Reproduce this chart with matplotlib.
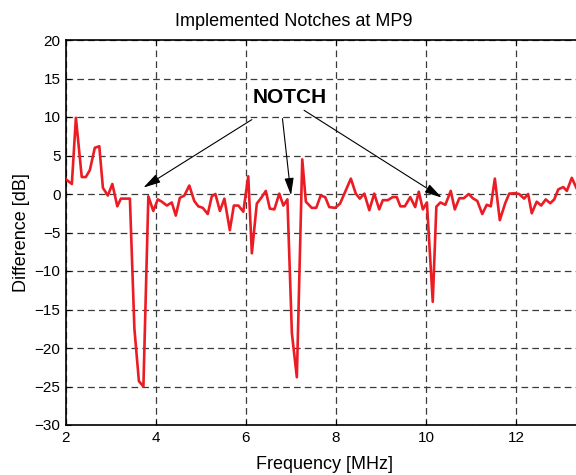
import matplotlib
matplotlib.use("Agg")
import matplotlib.pyplot as plt

plt.rcParams['font.family'] = ['Liberation Sans', 'DejaVu Sans']
plt.rcParams['lines.scale_dashes'] = False

# Measured difference after notch implementation at MP9
freq_mhz = [
    2.00, 2.13, 2.22, 2.35, 2.44, 2.53, 2.64, 2.74, 2.82, 2.93,
    3.03, 3.14, 3.22, 3.32, 3.42, 3.52, 3.62, 3.72, 3.83, 3.94,
    4.04, 4.13, 4.24, 4.35, 4.44, 4.53, 4.63, 4.74, 4.85, 4.94,
    5.04, 5.15, 5.24, 5.32, 5.42, 5.52, 5.64, 5.73, 5.83, 5.94,
    6.05, 6.13, 6.24, 6.35, 6.44, 6.53, 6.63, 6.74, 6.83, 6.92,
    7.02, 7.13, 7.25, 7.33, 7.46, 7.56, 7.66, 7.76, 7.85, 7.98,
    8.09, 8.22, 8.33, 8.44, 8.53, 8.63, 8.74, 8.85, 8.96, 9.04,
    9.15, 9.26, 9.35, 9.43, 9.53, 9.65, 9.76, 9.84, 9.93, 10.02,
    10.15, 10.23, 10.32, 10.43, 10.55, 10.64, 10.74, 10.84, 10.95, 11.04,
    11.14, 11.25, 11.35, 11.44, 11.53, 11.64, 11.76, 11.85, 11.98, 12.07,
    12.18, 12.27, 12.35, 12.46, 12.56, 12.66, 12.76, 12.85, 12.94, 13.05,
    13.13, 13.24, 13.34,
]
difference_db = [
    1.9, 1.3, 9.9, 2.2, 2.2, 3.1, 6.0, 6.2, 0.8, -0.2,
    1.3, -1.6, -0.6, -0.6, -0.6, -17.5, -24.3, -25.0, -0.3, -2.2,
    -0.7, -1.0, -1.5, -1.1, -2.8, -0.5, -0.2, 1.1, -0.9, -1.6,
    -1.8, -2.6, -0.3, 0.0, -2.2, -0.6, -4.7, -1.5, -1.5, -2.3,
    2.3, -7.7, -1.25, -0.4, 0.4, -1.9, -2.0, 0.05, -1.5, -0.7,
    -18.1, -23.8, 4.5, -1.0, -1.8, -1.8, -0.2, -0.4, -1.7, -1.8,
    -1.25, 0.5, 2.0, 0.05, -0.6, 0.05, -2.1, 0.05, -2.0, -0.8,
    -0.8, -0.4, -0.4, -1.6, -1.6, -0.4, -1.7, 0.3, -2.0, -1.1,
    -14.0, -1.65, -1.1, -1.4, 0.4, -2.0, -0.55, -0.55, 0.0, -0.55,
    -0.9, -2.6, -1.4, -1.6, 2.0, -3.4, -1.2, 0.05, 0.1, 0.0,
    -0.6, 0.0, -2.5, -1.0, -1.5, -0.7, -1.2, -0.7, 0.6, 0.9,
    0.4, 2.1, 0.8,
]

x_ticks = [2, 4, 6, 8, 10, 12]
y_ticks = [-30, -25, -20, -15, -10, -5, 0, 5, 10, 15, 20]

fig = plt.figure(figsize=(5.76, 4.75), dpi=100)
ax = fig.add_axes([66 / 576, 50 / 475, 540 / 576, 385 / 475])

ax.plot(freq_mhz, difference_db, color='#ec1c24', lw=1.9, zorder=3)

ax.set_xlim(2, 14)
ax.set_ylim(-30, 20)
ax.set_xticks(x_ticks)
ax.set_yticks(y_ticks)
ax.tick_params(direction='in', length=3.5, width=0.8, labelsize=11,
               top=True, right=True, pad=4)
ax.grid(True, color='#3a3a3a', lw=0.9, linestyle=(0, (4.8, 3.0)))
for s in ax.spines.values():
    s.set_linewidth(1.2)

fig.text(294 / 576, 1 - 26 / 475, 'Implemented Notches at MP9',
         ha='center', va='baseline', fontsize=13)
fig.text(324 / 576, 1 - 469 / 475, 'Frequency [MHz]',
         ha='center', va='baseline', fontsize=13)
fig.text(22 / 576, 1 - 233 / 475, 'Difference [dB]',
         ha='center', va='center', rotation=90, fontsize=13)

ax.text(6.96, 12.55, 'NOTCH', ha='center', va='center',
        fontsize=15, fontweight='bold', zorder=5)

arrow = dict(arrowstyle='-|>,head_length=0.75,head_width=0.2',
             color='black', lw=0.8, mutation_scale=14,
             shrinkA=0, shrinkB=0)
for tip, tail in [((3.72, 0.83), (6.13, 9.66)),
                  ((7.0, -0.17), (6.81, 9.79)),
                  ((10.35, -0.47), (7.29, 10.87))]:
    ax.annotate('', xy=tip, xytext=tail, arrowprops=arrow, zorder=4)

fig.savefig('out.png', dpi=100)
